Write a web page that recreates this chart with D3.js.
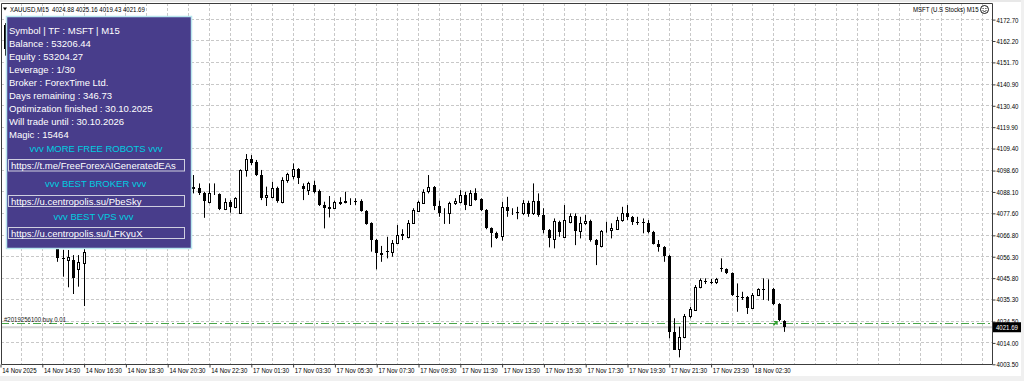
<!DOCTYPE html>
<html><head><meta charset="utf-8">
<script src="https://cdn.jsdelivr.net/npm/d3@7"></script>
<style>
html,body{margin:0;padding:0;background:#fff;overflow:hidden;}
svg{display:block;}
</style></head><body>
<svg id="c" width="1024" height="381"></svg>
<script>
// ---------------- DATA ----------------
const symbolHeader = "XAUUSD,M15  4024.88 4025.16 4019.43 4021.69";
const rightHeader = "MSFT (U.S Stocks) M15";
const opens  = [4167.5,4170.0,4158.0,4149.0,4152.0,4138.0,4126.0,4118.0,4104.0,4096.0,4080.0,4068.0,4055.5,4054.7,4054.7,4050.6,4053.4,4061.5,4068.0,4074.0,4071.0,4079.0,4085.0,4082.0,4088.0,4093.0,4090.0,4096.0,4101.0,4097.0,4093.0,4096.0,4099.0,4095.0,4092.0,4094.0,4091.0,4090.6,4090.2,4087.7,4083.3,4087.7,4087.1,4080.1,4083.1,4080.8,4077.9,4098.5,4104.1,4102.9,4096.4,4085.5,4085.7,4089.9,4083.3,4093.9,4095.9,4099.2,4091.0,4088.7,4091.5,4088.7,4081.7,4080.2,4080.4,4083.1,4083.4,4083.8,4083.9,4083.6,4078.9,4072.7,4064.5,4058.3,4059.0,4058.8,4063.2,4067.4,4066.1,4072.7,4078.9,4083.0,4088.2,4090.4,4081.2,4077.9,4077.6,4082.5,4083.3,4086.6,4081.7,4087.7,4084.5,4079.2,4070.2,4068.1,4066.1,4080.5,4078.3,4078.5,4077.9,4082.8,4077.6,4083.8,4076.8,4069.4,4065.3,4073.5,4066.1,4073.5,4076.3,4069.1,4072.7,4073.8,4064.5,4061.6,4069.0,4069.1,4070.0,4074.3,4077.6,4075.9,4073.5,4073.2,4073.0,4068.6,4062.5,4060.9,4056.6,4019.5,4010.9,4017.0,4026.9,4030.2,4041.3,4044.6,4044.1,4043.9,4050.6,4050.3,4048.2,4037.1,4036.7,4036.5,4031.0,4037.5,4040.3,4040.4,4040.6,4033.1,4024.88];
const highs  = [4171.0,4171.0,4160.0,4155.0,4153.0,4140.0,4130.0,4120.0,4108.0,4098.0,4083.0,4069.0,4059.6,4059.6,4057.1,4057.1,4061.6,4069.5,4076.0,4077.0,4081.0,4087.0,4088.0,4090.0,4096.0,4095.0,4099.0,4103.0,4104.0,4099.0,4098.0,4102.0,4100.0,4097.0,4096.0,4095.0,4093.0,4096.4,4092.3,4088.2,4092.3,4092.3,4087.4,4085.0,4084.1,4085.5,4099.2,4106.7,4106.2,4103.8,4098.9,4090.7,4093.1,4090.7,4095.3,4097.5,4102.1,4099.8,4092.3,4093.1,4093.6,4089.3,4083.3,4086.1,4083.8,4085.5,4088.2,4085.0,4085.0,4084.5,4079.2,4073.2,4065.0,4061.6,4066.1,4064.5,4071.9,4069.8,4074.3,4080.1,4083.8,4089.4,4096.4,4091.0,4083.8,4080.1,4083.3,4085.0,4089.0,4088.2,4089.0,4089.9,4085.0,4079.7,4070.7,4068.6,4083.3,4085.7,4080.1,4080.8,4084.1,4083.8,4092.3,4087.4,4080.1,4069.9,4075.1,4074.0,4081.7,4077.6,4077.6,4075.9,4076.8,4074.5,4065.0,4069.4,4073.5,4072.7,4075.9,4080.8,4081.7,4076.3,4075.9,4075.1,4074.3,4069.0,4064.5,4061.5,4057.2,4026.1,4022.0,4028.2,4031.7,4042.4,4045.7,4045.7,4045.4,4045.9,4055.5,4050.6,4048.6,4043.2,4039.1,4037.0,4038.5,4040.8,4045.7,4045.2,4041.0,4033.5,4025.16];
const lows   = [4165.5,4155.0,4146.0,4143.0,4135.0,4122.0,4114.0,4100.0,4090.0,4076.0,4064.0,4053.8,4046.5,4041.3,4038.0,4041.6,4032.1,4061.0,4066.0,4069.0,4070.0,4077.0,4080.0,4081.0,4086.0,4087.0,4089.0,4094.0,4095.0,4090.0,4091.0,4094.0,4092.0,4090.0,4089.0,4088.0,4087.0,4087.4,4086.6,4075.4,4082.5,4086.6,4079.2,4079.2,4077.9,4080.1,4077.6,4095.6,4101.3,4095.9,4084.1,4081.2,4085.0,4082.8,4082.5,4092.6,4094.3,4092.0,4084.1,4086.6,4087.4,4081.2,4070.2,4075.6,4080.1,4081.7,4082.5,4081.7,4081.7,4078.4,4072.0,4058.8,4050.1,4053.8,4055.5,4056.3,4062.5,4064.5,4065.3,4072.4,4078.4,4082.5,4087.4,4079.2,4075.9,4072.4,4072.4,4081.7,4082.5,4079.2,4081.2,4083.8,4078.7,4069.8,4060.9,4065.0,4064.2,4075.9,4076.8,4074.7,4076.8,4075.9,4076.8,4075.9,4067.8,4060.9,4060.4,4066.1,4065.6,4072.7,4062.0,4065.3,4071.9,4063.7,4052.2,4060.9,4068.1,4065.3,4069.4,4073.5,4074.3,4071.9,4071.9,4067.8,4067.8,4062.3,4058.8,4053.8,4016.3,4010.6,4006.9,4016.3,4026.1,4029.8,4040.8,4042.9,4042.9,4042.9,4048.9,4047.8,4037.0,4029.3,4035.1,4028.2,4030.6,4037.0,4035.1,4034.7,4032.6,4024.6,4019.43];
const closes = [4170.0,4158.0,4149.0,4152.0,4138.0,4126.0,4118.0,4104.0,4096.0,4080.0,4068.0,4055.5,4055.4,4056.3,4045.7,4053.8,4058.8,4068.0,4074.0,4071.0,4079.0,4085.0,4082.0,4088.0,4093.0,4090.0,4096.0,4101.0,4097.0,4093.0,4096.0,4099.0,4095.0,4092.0,4094.0,4091.0,4090.6,4089.7,4087.7,4083.8,4087.7,4087.9,4079.6,4083.3,4080.8,4085.0,4098.9,4104.1,4102.1,4096.4,4085.0,4086.6,4089.9,4083.3,4093.9,4096.7,4099.2,4094.8,4089.4,4092.3,4088.2,4081.7,4080.1,4080.5,4083.1,4083.4,4083.7,4083.9,4083.7,4078.9,4072.7,4064.5,4058.0,4057.1,4058.7,4063.2,4067.0,4066.4,4073.0,4079.2,4083.3,4088.2,4090.4,4081.2,4077.9,4078.1,4082.5,4083.6,4086.6,4081.7,4087.4,4084.5,4079.2,4070.2,4067.8,4065.6,4080.5,4078.4,4078.5,4078.3,4082.8,4077.3,4083.6,4076.8,4069.4,4065.3,4074.0,4068.6,4074.3,4076.3,4069.1,4073.0,4073.8,4064.5,4062.0,4069.1,4069.2,4070.2,4074.3,4077.6,4075.6,4073.5,4073.3,4073.0,4068.6,4062.9,4060.9,4056.6,4019.5,4010.9,4017.0,4027.2,4030.5,4041.3,4044.9,4044.4,4043.9,4045.2,4050.4,4048.2,4037.5,4036.9,4036.5,4031.0,4037.5,4040.3,4040.1,4040.6,4033.1,4025.2,4021.69];
const xTickLabels = ["14 Nov 2025","14 Nov 14:30","14 Nov 16:30","14 Nov 18:30","14 Nov 20:30","14 Nov 22:30","17 Nov 01:30","17 Nov 03:30","17 Nov 05:30","17 Nov 07:30","17 Nov 09:30","17 Nov 11:30","17 Nov 13:30","17 Nov 15:30","17 Nov 17:30","17 Nov 19:30","17 Nov 21:30","17 Nov 23:30","18 Nov 02:30"];
const barsPerLabel = 8;
const yTickLabels = ["4003.50","4014.00","4024.50","4035.30","4045.80","4056.30","4066.80","4077.60","4088.10","4098.60","4109.40","4119.90","4130.40","4140.90","4151.70","4162.20","4172.70"];
const bidPrice = 4021.69;
const orderPrice = 4023.94;
const orderLabel = "#2019256100 buy 0.01";
const orderBar = 149;
const infoLines = ["Symbol | TF : MSFT | M15","Balance : 53206.44","Equity : 53204.27","Leverage : 1/30","Broker : ForexTime Ltd.","Days remaining : 346.73","Optimization finished : 30.10.2025","Will trade until : 30.10.2026","Magic : 15464"];
const promoTitles = ["vvv MORE FREE ROBOTS vvv","vvv BEST BROKER vvv","vvv BEST VPS vvv"];
const promoLinks = ["https://t.me/FreeForexAIGeneratedEAs","https://u.centropolis.su/PbeSky","https://u.centropolis.su/LFKyuX"];

// ---------------- DRAW ----------------
const svg = d3.select('#c');
const arial = "'Liberation Sans',Arial,sans-serif";
const SX = 0.81;   // horizontal squeeze for the small MT4 chart font
const smallFont = sel => sel.attr('font-family',arial).attr('font-size',7.5);
const P = {left:1, right:992, top:3, bottom:364};
const nBars = opens.length;
const x = d3.scaleLinear().domain([0, nBars-1]).range([0, 783.75]);
const y = d3.scaleLinear().domain([+yTickLabels[0], +yTickLabels[yTickLabels.length-1]]).range([364.3, 19.6]);
const px = v => Math.round(v) + 0.5;
function smallText(parent, tx, ty, str, anchor, fill){
  return parent.append('text').attr('transform',`translate(${tx},${ty}) scale(${SX},1)`)
    .attr('text-anchor',anchor||'start').attr('fill',fill||'#000').attr('xml:space','preserve')
    .text(str).call(smallFont);
}

svg.append('rect').attr('width',1024).attr('height',381).attr('fill','#fff');
svg.append('rect').attr('x',0).attr('y',0).attr('width',1024).attr('height',2).attr('fill','#e8e8e8');
svg.append('rect').attr('x',0).attr('y',376).attr('width',1024).attr('height',5).attr('fill','#f0f0f0');
svg.append('rect').attr('x',1021).attr('y',0).attr('width',3).attr('height',381).attr('fill','#f0f0f0');

svg.append('clipPath').attr('id','clip').append('rect')
  .attr('x',P.left+1).attr('y',P.top+1).attr('width',P.right-P.left-1).attr('height',P.bottom-P.top-1);
const g = svg.append('g').attr('clip-path','url(#clip)');

// grid
const gridStyle = sel => sel.attr('stroke','#c8c8c8').attr('stroke-width',1).attr('stroke-dasharray','3,2');
g.selectAll('.hg').data(yTickLabels.map(Number)).join('line').attr('class','hg')
  .attr('x1',P.left).attr('x2',P.right).attr('y1',d=>px(y(d)-0.5)).attr('y2',d=>px(y(d)-0.5)).call(gridStyle);
const maxIdx = Math.ceil(x.invert(P.right));
g.selectAll('.vg').data(d3.range(0, maxIdx, barsPerLabel/2)).join('line').attr('class','vg')
  .attr('x1',d=>px(x(d))).attr('x2',d=>px(x(d))).attr('y1',P.top).attr('y2',P.bottom).call(gridStyle);

// bid line and order line
g.append('line').attr('x1',P.left).attr('x2',P.right).attr('y1',y(bidPrice)).attr('y2',y(bidPrice))
  .attr('stroke','#d4d4d4').attr('stroke-width',2);
g.append('line').attr('x1',P.left).attr('x2',P.right).attr('y1',px(y(orderPrice))).attr('y2',px(y(orderPrice)))
  .attr('stroke','#4aa54a').attr('stroke-width',1).attr('stroke-dasharray','8,3,2,3');

// candles
const bars = d3.range(nBars).map(i=>({i,o:opens[i],h:highs[i],l:lows[i],c:closes[i]}));
const cg = g.append('g');
cg.selectAll('.wick').data(bars).join('line').attr('class','wick')
  .attr('x1',d=>px(x(d.i))).attr('x2',d=>px(x(d.i)))
  .attr('y1',d=>y(d.h)).attr('y2',d=>y(d.l)).attr('stroke','#000').attr('stroke-width',1);
cg.selectAll('.body').data(bars).join('rect').attr('class','body')
  .attr('x',d=>Math.round(x(d.i))-1+(d.c>=d.o?0.5:0))
  .attr('width',d=>d.c>=d.o?2:3)
  .attr('y',d=>{const t=y(Math.max(d.o,d.c)); return d.c>=d.o? Math.round(t)+0.5 : Math.round(t);})
  .attr('height',d=>{const hh=Math.abs(y(d.o)-y(d.c)); return d.c>=d.o? Math.max(Math.round(hh),0): Math.max(Math.round(hh),1);})
  .attr('fill',d=>d.c>=d.o?'#fff':'#000')
  .attr('stroke',d=>d.c>=d.o?'#000':'none').attr('stroke-width',1);

// buy arrow marker
const ax = x(orderBar)-3, ay = y(orderPrice);
g.append('path').attr('d',`M${ax-2},${ay+2.5}L${ax+1},${ay-0.5}M${ax-1.5},${ay-1}L${ax+1.5},${ay-1}L${ax+1.5},${ay+2}`)
  .attr('stroke','#2e9e2e').attr('stroke-width',1.4).attr('fill','none');

// order label
smallText(svg, 4, px(y(orderPrice))-1.5, orderLabel, 'start', '#202020');

// frame
svg.append('path').attr('d',`M${P.left+0.5},${P.top+0.5}H${P.right+0.5}V${P.bottom+0.5}H${P.left+0.5}Z`)
  .attr('fill','none').attr('stroke','#3c3c3c').attr('stroke-width',1);

// right axis
const yAxis = d3.axisRight(y).tickValues(yTickLabels.map(Number)).tickSize(3).tickFormat((d,i)=>yTickLabels[i]);
const ya = svg.append('g').attr('transform',`translate(${P.right+0.5},0)`).call(yAxis);
ya.select('.domain').remove();
ya.selectAll('line').attr('stroke','#3c3c3c');
ya.selectAll('text').call(smallFont).attr('fill','#000').attr('x',4/SX).attr('transform',`scale(${SX},1)`);

// bid label on axis
const by = y(bidPrice);
svg.append('rect').attr('x',P.right+1).attr('y',by-5).attr('width',28).attr('height',10).attr('fill','#000');
smallText(svg, P.right+4, by+2.8, bidPrice.toFixed(2), 'start', '#fff');

// bottom axis
const xTickIdx = xTickLabels.map((_,i)=>i*barsPerLabel);
const xAxis = d3.axisBottom(x).tickValues(xTickIdx).tickSize(3).tickFormat((d,i)=>xTickLabels[i]);
const xa = svg.append('g').attr('transform',`translate(0.5,${P.bottom+0.5})`).call(xAxis);
xa.select('.domain').remove();
xa.selectAll('line').attr('stroke','#3c3c3c');
xa.selectAll('text').call(smallFont).attr('fill','#000')
  .attr('text-anchor','start').attr('x',1.2/SX).attr('y',9).attr('dy',0).attr('transform',`scale(${SX},1)`);

// headers
svg.append('path').attr('d','M3,7.5L7,7.5L5,10.5Z').attr('fill','#000');
smallText(svg, 10, 11.5, symbolHeader);
smallText(svg, 978.5, 12, rightHeader, 'end');
const sm = svg.append('g').attr('transform','translate(984.5,9.5)');
sm.append('circle').attr('r',4).attr('fill','#fff').attr('stroke','#000').attr('stroke-width',0.9);
sm.append('circle').attr('cx',-1.4).attr('cy',-1).attr('r',0.6).attr('fill','#000');
sm.append('circle').attr('cx',1.4).attr('cy',-1).attr('r',0.6).attr('fill','#000');
sm.append('path').attr('d','M-2,1Q0,3 2,1').attr('stroke','#000').attr('stroke-width',0.8).attr('fill','none');

// info panel
const pg = svg.append('g');
pg.append('rect').attr('x',6.5).attr('y',16.5).attr('width',185).attr('height',232)
  .attr('fill','#483d8b').attr('stroke','#b8e6ee').attr('stroke-width',1.5);
pg.selectAll('.info').data(infoLines).join('text').attr('class','info')
  .attr('x',9).attr('y',(d,i)=>33.5+i*13).text(d=>d)
  .attr('font-family',arial).attr('font-size',9.5).attr('fill','#fff');
const titleX = [29.5, 45, 53.5];
const titleY = [151.5, 186.5, 219.5];
const boxY = [159.5, 195.5, 227.5];
const boxH = [11.5, 11, 11];
pg.selectAll('.ttl').data(promoTitles).join('text').attr('class','ttl')
  .attr('x',(d,i)=>titleX[i]).attr('y',(d,i)=>titleY[i]).text(d=>d)
  .attr('font-family',arial).attr('font-size',9.5).attr('fill','#00cee0');
pg.selectAll('.lbox').data(promoLinks).join('rect').attr('class','lbox')
  .attr('x',8.5).attr('y',(d,i)=>boxY[i]).attr('width',176).attr('height',(d,i)=>boxH[i])
  .attr('fill','none').attr('stroke','#cfcfe0').attr('stroke-width',1);
pg.selectAll('.lnk').data(promoLinks).join('text').attr('class','lnk')
  .attr('x',11).attr('y',(d,i)=>boxY[i]+9).text(d=>d)
  .attr('font-family',arial).attr('font-size',9.5).attr('fill','#fff');
</script>
</body></html>
